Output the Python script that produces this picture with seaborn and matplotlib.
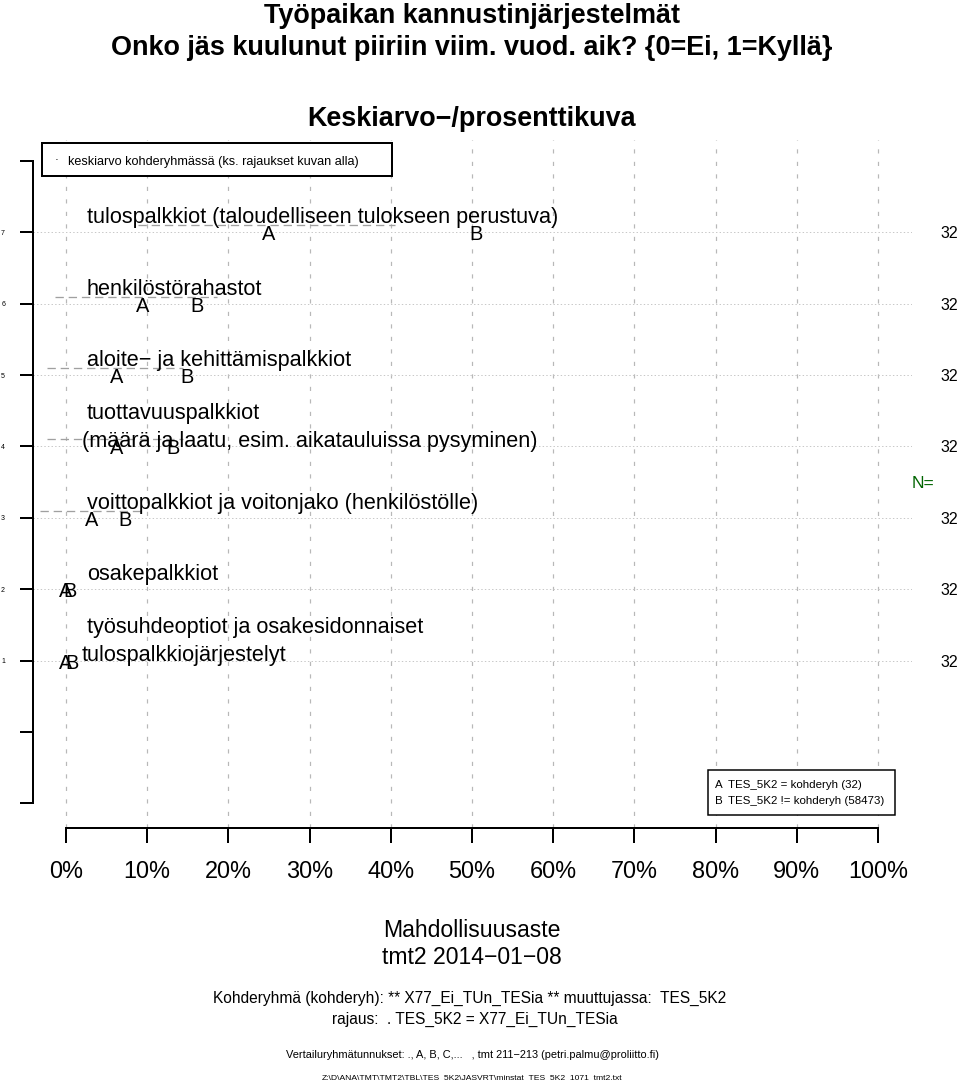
import matplotlib
matplotlib.use("Agg")
import matplotlib.pyplot as plt
import seaborn as sns
from matplotlib.patches import Rectangle
from matplotlib.transforms import blended_transform_factory

# ---------------- data ----------------
row_pos = [7, 6, 5, 4, 3, 2, 1]
row_labels = [
    ["tulospalkkiot (taloudelliseen tulokseen perustuva)"],
    ["henkilöstörahastot"],
    ["aloite\u2212 ja kehittämispalkkiot"],
    ["tuottavuuspalkkiot", "(määrä ja laatu, esim. aikatauluissa pysyminen)"],
    ["voittopalkkiot ja voitonjako (henkilöstölle)"],
    ["osakepalkkiot"],
    ["työsuhdeoptiot ja osakesidonnaiset", "tulospalkkiojärjestelyt"],
]
a_vals = [25.0, 9.4, 6.25, 6.25, 3.1, 0.0, 0.0]
b_vals = [50.5, 16.1, 14.9, 13.2, 7.3, 0.5, 0.8]
ci_lo = [8.9, -1.4, -2.4, -2.4, -3.2, 0.0, 0.0]
ci_hi = [40.5, 18.6, 14.4, 14.4, 9.6, 0.0, 0.0]
n_vals = [32, 32, 32, 32, 32, 32, 32]
x_ticks = [0, 10, 20, 30, 40, 50, 60, 70, 80, 90, 100]
x_ticklabels = [f"{t}%" for t in x_ticks]
y_ticks = [-1, 0, 1, 2, 3, 4, 5, 6, 7, 8]
y_ticklabels = ["", "", "1", "2", "3", "4", "5", "6", "7", ""]

title1 = "Työpaikan kannustinjärjestelmät"
title2 = "Onko jäs kuulunut piiriin viim. vuod. aik? {0=Ei, 1=Kyllä}"
title3 = "Keskiarvo\u2212/prosenttikuva"
legend_top = "keskiarvo kohderyhmässä (ks. rajaukset kuvan alla)"
legend_letters = ["A", "B"]
legend_texts = ["TES_5K2 = kohderyh (32)", "TES_5K2 != kohderyh (58473)"]
xlabel1 = "Mahdollisuusaste"
xlabel2 = "tmt2 2014\u221201\u221208"
note1 = "Kohderyhmä (kohderyh): ** X77_Ei_TUn_TESia ** muuttujassa:  TES_5K2"
note2 = "rajaus:  . TES_5K2 = X77_Ei_TUn_TESia"
note3 = "Vertailuryhmätunnukset: ., A, B, C,...   , tmt 211\u2212213 (petri.palmu@proliitto.fi)"
note4 = "Z:\\D\\ANA\\TMT\\TMT2\\TBL\\TES_5K2\\JASVRT\\minstat_TES_5K2_1071_tmt2.txt"

# ---------------- style ----------------
W, H = 960, 1081
sns.set_theme(style="white")
plt.rcParams["font.family"] = ["Liberation Sans", "DejaVu Sans"]
plt.rcParams["lines.scale_dashes"] = False
plt.rcParams["text.color"] = "black"
plt.rcParams["axes.labelcolor"] = "black"
plt.rcParams["xtick.color"] = "black"
plt.rcParams["ytick.color"] = "black"
PT = 0.72  # points per pixel at dpi 100


def fs(px):
    return px * PT


fig = plt.figure(figsize=(W / 100, H / 100), dpi=100)
fig.patch.set_facecolor("white")

# axes geometry (pixels)
axL, axR, axT, axB = 33, 912, 140, 828
ax = fig.add_axes([axL / W, 1 - axB / H, (axR - axL) / W, (axB - axT) / H])
ax.set_facecolor("white")
xs = 8.12  # px per percent
x0px = 66
xmin = (axL - x0px) / xs
xmax = (axR - x0px) / xs
ys = 71.4
y0px = 732
ymin = (y0px - axB) / ys
ymax = (y0px - axT) / ys
ax.set_xlim(xmin, xmax)
ax.set_ylim(ymin, ymax)

for s in ["top", "right"]:
    ax.spines[s].set_visible(False)
ax.spines["left"].set_bounds(-1, 8)
ax.spines["bottom"].set_bounds(0, 100)
ax.spines["left"].set_linewidth(2 * PT)
ax.spines["bottom"].set_linewidth(2 * PT)
ax.spines["left"].set_color("black")
ax.spines["bottom"].set_color("black")

ax.set_xticks(x_ticks)
ax.set_xticklabels(x_ticklabels, fontsize=fs(23.5), color="black")
ax.set_yticks(y_ticks)
ax.set_yticklabels(y_ticklabels, fontsize=fs(7), color="black")
ax.tick_params(axis="x", direction="out", length=15 * PT, width=2 * PT,
               pad=17 * PT, colors="black", bottom=True)
ax.tick_params(axis="y", direction="out", length=13 * PT, width=2 * PT,
               pad=15 * PT, colors="black", left=True)
ax.grid(False)

# vertical dashed grid
for t in x_ticks:
    ax.axvline(t, color="#b8b8b8", lw=1.2 * PT, linestyle=(0, (3.0, 6.0)), zorder=1)
# horizontal dotted grid
for r in row_pos:
    ax.axhline(r, color="#c8c8c8", lw=1.0 * PT, linestyle=(0, (1.0, 1.6)), zorder=1)

# confidence segments (gray dashed, slightly above row)
for r, lo, hi in zip(row_pos, ci_lo, ci_hi):
    if hi > lo:
        ax.plot([lo, hi], [r + 7 / ys, r + 7 / ys], color="#a0a0a0",
                lw=1.3 * PT, linestyle=(0, (6.0, 3.5)), zorder=2)

# row labels
for r, lines in zip(row_pos, row_labels):
    if len(lines) == 1:
        ax.text((87 - x0px) / xs, r + 9 / ys, lines[0], fontsize=fs(21.7),
                ha="left", va="baseline", zorder=4, color="black")
    else:
        ax.text((87 - x0px) / xs, r + 27.5 / ys, lines[0], fontsize=fs(21.7),
                ha="left", va="baseline", zorder=4, color="black")
        ax.text((82 - x0px) / xs, r - 0.5 / ys, lines[1], fontsize=fs(21.7),
                ha="left", va="baseline", zorder=4, color="black")

# A / B markers
for r, a, b in zip(row_pos, a_vals, b_vals):
    ax.text(a, r - 8 / ys, "A", fontsize=fs(20), ha="center", va="baseline",
            zorder=5, color="black")
    ax.text(b, r - 8 / ys, "B", fontsize=fs(20), ha="center", va="baseline",
            zorder=5, color="black")

# N column
tr = blended_transform_factory(fig.transFigure, ax.transData)
for r, n in zip(row_pos, n_vals):
    ax.text(958 / W, r, str(n), transform=tr, fontsize=fs(16), ha="right",
            va="center_baseline", clip_on=False, color="black")
ax.text(912 / W, 3.5, "N=", transform=tr, fontsize=fs(17.5), ha="left",
        va="center_baseline", color="#006400", clip_on=False)


def ftext(x, y, s, **kw):
    kw.setdefault("color", "black")
    fig.text(x / W, 1 - y / H, s, **kw)


# titles
ftext(472, 23, title1, fontsize=fs(27), fontweight="bold", ha="center", va="baseline")
ftext(472, 55, title2, fontsize=fs(27), fontweight="bold", ha="center", va="baseline")
ftext(472, 126, title3, fontsize=fs(27), fontweight="bold", ha="center", va="baseline")

# top legend
fig.patches.append(Rectangle((42 / W, 1 - 176 / H), (392 - 42) / W, (176 - 143) / H,
                             transform=fig.transFigure, fill=True, facecolor="white",
                             edgecolor="black", lw=2 * PT, zorder=10))
ftext(57, 160, "\u00b7", fontsize=fs(12), ha="center", va="center", zorder=11)
ftext(68, 165, legend_top, fontsize=fs(12.6), ha="left", va="baseline", zorder=11)

# bottom-right legend
fig.patches.append(Rectangle((708 / W, 1 - 815 / H), (895 - 708) / W, (815 - 770) / H,
                             transform=fig.transFigure, fill=True, facecolor="white",
                             edgecolor="black", lw=1.5 * PT, zorder=10))
for i, (l, t) in enumerate(zip(legend_letters, legend_texts)):
    yb = 788 + i * 16
    ftext(715, yb, l, fontsize=fs(11.5), ha="left", va="baseline", zorder=11)
    ftext(728, yb, t, fontsize=fs(11.5), ha="left", va="baseline", zorder=11)

# x labels and notes
ftext(472, 937, xlabel1, fontsize=fs(23), ha="center", va="baseline")
ftext(472, 964, xlabel2, fontsize=fs(23), ha="center", va="baseline")
ftext(470, 1003, note1, fontsize=fs(15.5), ha="center", va="baseline")
ftext(475, 1024, note2, fontsize=fs(15.5), ha="center", va="baseline")
ftext(472, 1058, note3, fontsize=fs(11), ha="center", va="baseline")
ftext(472, 1079, note4, fontsize=fs(8.5), ha="center", va="baseline")

fig.savefig("out.png", dpi=100, facecolor="white")
